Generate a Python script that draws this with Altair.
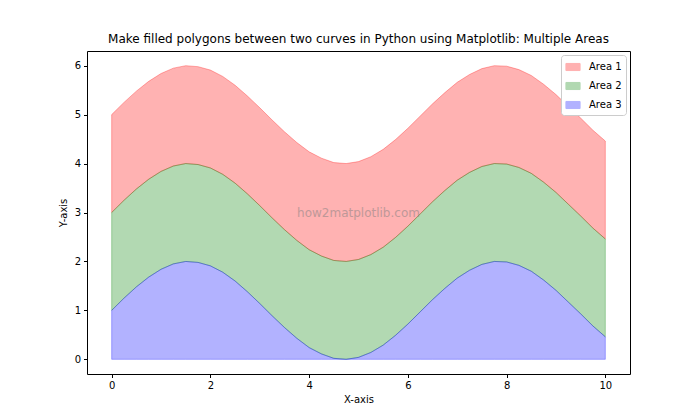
import altair as alt
import pandas as pd

x_vals = [0.0, 0.25, 0.5, 0.75, 1.0, 1.25, 1.5, 1.75, 2.0, 2.25, 2.5, 2.75, 3.0, 3.25, 3.5,
          3.75, 4.0, 4.25, 4.5, 4.75, 5.0, 5.25, 5.5, 5.75, 6.0, 6.25, 6.5, 6.75, 7.0, 7.25,
          7.5, 7.75, 8.0, 8.25, 8.5, 8.75, 9.0, 9.25, 9.5, 9.75, 10.0]

base_line = [0.0] * 41

curve_low = [1.00, 1.25, 1.48, 1.68, 1.84, 1.95, 2.00, 1.98, 1.91, 1.78, 1.60, 1.38, 1.14,
             0.89, 0.65, 0.43, 0.24, 0.11, 0.02, 0.00, 0.04, 0.14, 0.29, 0.49, 0.72, 0.97,
             1.22, 1.45, 1.66, 1.82, 1.94, 2.00, 1.99, 1.92, 1.80, 1.62, 1.41, 1.17, 0.93,
             0.68, 0.46]

curve_mid = [3.00, 3.25, 3.48, 3.68, 3.84, 3.95, 4.00, 3.98, 3.91, 3.78, 3.60, 3.38, 3.14,
             2.89, 2.65, 2.43, 2.24, 2.11, 2.02, 2.00, 2.04, 2.14, 2.29, 2.49, 2.72, 2.97,
             3.22, 3.45, 3.66, 3.82, 3.94, 4.00, 3.99, 3.92, 3.80, 3.62, 3.41, 3.17, 2.93,
             2.68, 2.46]

curve_top = [5.00, 5.25, 5.48, 5.68, 5.84, 5.95, 6.00, 5.98, 5.91, 5.78, 5.60, 5.38, 5.14,
             4.89, 4.65, 4.43, 4.24, 4.11, 4.02, 4.00, 4.04, 4.14, 4.29, 4.49, 4.72, 4.97,
             5.22, 5.45, 5.66, 5.82, 5.94, 6.00, 5.99, 5.92, 5.80, 5.62, 5.41, 5.17, 4.93,
             4.68, 4.46]

series_names = ["Area 1", "Area 2", "Area 3"]
series_colors = ["#ff0000", "#008000", "#0000ff"]

rows = []
for i, xv in enumerate(x_vals):
    rows.append({"x": xv, "lo": curve_mid[i], "hi": curve_top[i], "series": "Area 1"})
    rows.append({"x": xv, "lo": curve_low[i], "hi": curve_mid[i], "series": "Area 2"})
    rows.append({"x": xv, "lo": base_line[i], "hi": curve_low[i], "series": "Area 3"})
df = pd.DataFrame(rows)

FONT = "DejaVu Sans"

xs = alt.Scale(domain=[-0.5, 10.5], nice=False, zero=False)
ys = alt.Scale(domain=[-0.3, 6.3], nice=False, zero=False)

areas = alt.Chart(df).mark_area(
    fillOpacity=0.3, strokeOpacity=0.3, strokeWidth=1
).encode(
    x=alt.X("x:Q", scale=xs, title="X-axis",
            axis=alt.Axis(values=[0, 2, 4, 6, 8, 10], grid=False, format="d")),
    y=alt.Y("lo:Q", scale=ys, title="Y-axis",
            axis=alt.Axis(values=[0, 1, 2, 3, 4, 5, 6], grid=False, format="d")),
    y2="hi:Q",
    color=alt.Color("series:N",
                    scale=alt.Scale(domain=series_names, range=series_colors),
                    legend=alt.Legend(title=None, orient="top-right",
                                      symbolType="M-1,-0.5L1,-0.5L1,0.5L-1,0.5Z",
                                      symbolSize=200, symbolOpacity=0.3,
                                      symbolStrokeWidth=1,
                                      labelFont=FONT, labelFontSize=10,
                                      labelColor="#000",
                                      fillColor="white", strokeColor="#cccccc",
                                      cornerRadius=3, padding=4, offset=4,
                                      rowPadding=5, labelOffset=8)),
    stroke=alt.Color("series:N", scale=alt.Scale(domain=series_names, range=series_colors),
                     legend=None),
    detail="series:N",
)

wm = alt.Chart(pd.DataFrame({"x": [5.0], "y": [3.0], "t": ["how2matplotlib.com"]})).mark_text(
    font=FONT, fontSize=12, color="#808080", opacity=0.5, align="center", baseline="middle"
).encode(x=alt.X("x:Q", scale=xs), y=alt.Y("y:Q", scale=ys), text="t:N")

chart = alt.layer(areas, wm).properties(
    width=543, height=323,
    title=alt.TitleParams("Make filled polygons between two curves in Python using Matplotlib: Multiple Areas",
                          font=FONT, fontSize=12, fontWeight="normal", color="#000",
                          anchor="middle", offset=5),
    autosize=alt.AutoSizeParams(type="none"),
    padding={"left": 79, "top": 43, "right": 60, "bottom": 40},
).configure_view(stroke="#000", strokeWidth=1).configure_axis(
    labelFont=FONT, labelFontSize=10, labelColor="#000", titleFont=FONT,
    titleFontSize=10, titleFontWeight="normal", titleColor="#000",
    tickColor="#000", tickSize=3.5, domain=False, labelPadding=3,
).configure_axisX(titlePadding=4).configure_axisY(titlePadding=6)

chart.save("out.html", embed_options={"renderer": "svg", "actions": False})
